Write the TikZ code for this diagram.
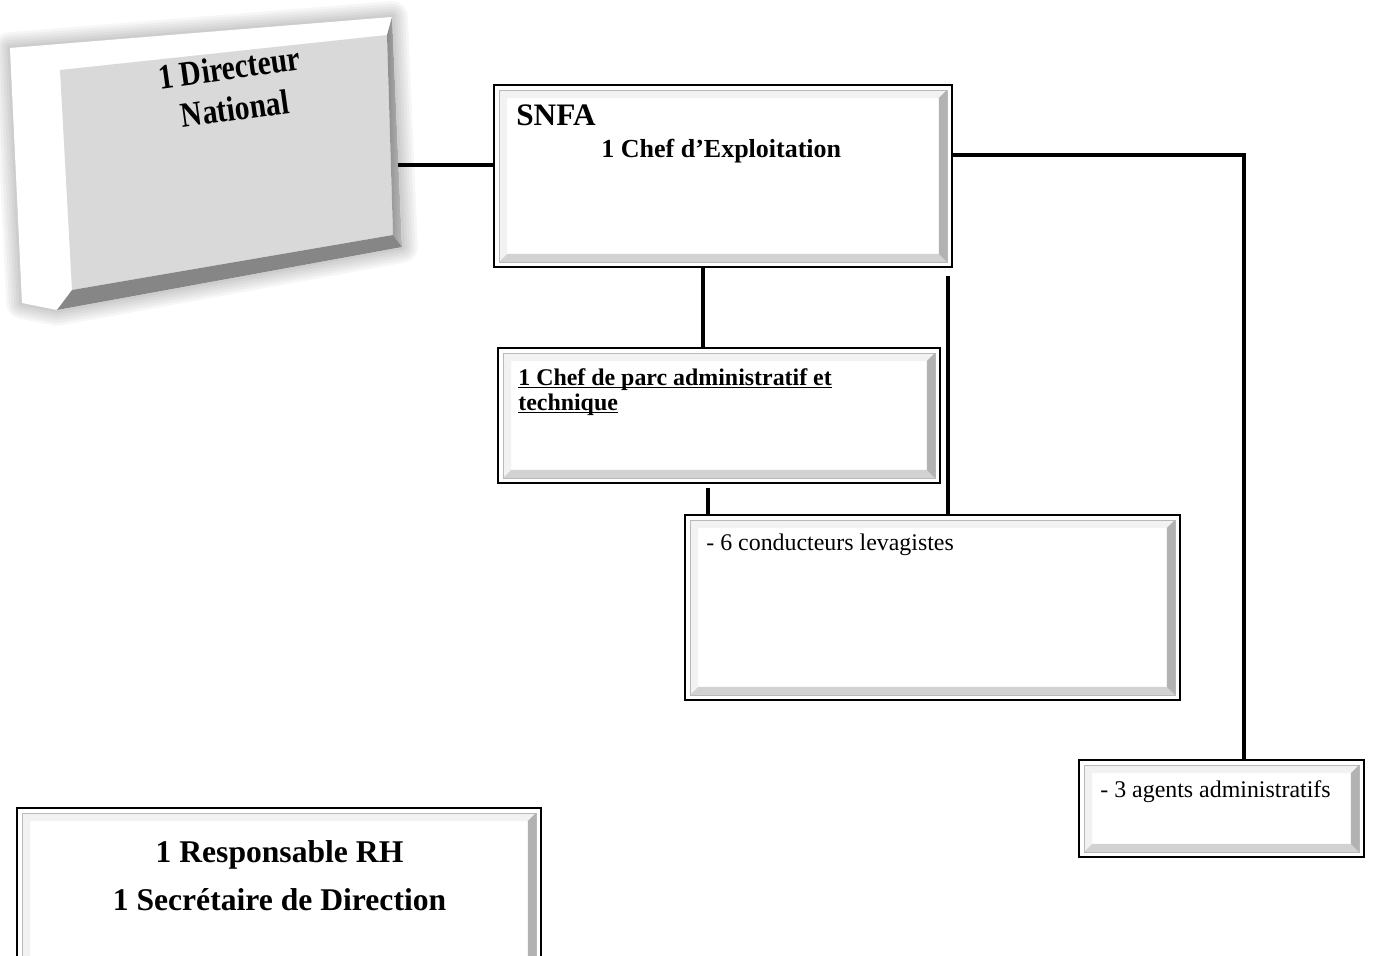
\documentclass[tikz,border=0pt]{standalone}
\usepackage{fontspec}
\setmainfont{Liberation Serif}
\usepackage{graphicx}
\newcommand\ulsmash[1]{\underline{\smash{#1}}}

\begin{document}
\begin{tikzpicture}[
  x=0.02cm, y=-0.02cm,
  unit/.style={rectangle, draw=black, line width=1.4pt, fill=white, bevel},
  bevel/.style={path picture={
    \coordinate (pa) at ([shift={(0.1cm,0.1cm)}]path picture bounding box.south west);
    \coordinate (pb) at ([shift={(-0.1cm,-0.1cm)}]path picture bounding box.north east);
    \coordinate (qa) at ([shift={(0.16cm,0.16cm)}]pa);
    \coordinate (qb) at ([shift={(-0.16cm,-0.16cm)}]pb);
    \fill[gray!10] (pa) -- (pa |- pb) -- (pb) -- (qb) -- (qa |- qb) -- (qa) -- cycle;
    \fill[gray!35] (pa) -- (pb |- pa) -- (qb |- qa) -- (qa) -- cycle;
    \fill[gray!60] (pb |- pa) -- (pb) -- (qb) -- (qb |- qa) -- cycle;
    \draw[gray!55, line width=0.4pt] (pa) rectangle (pb);
  }},
  link/.style={line width=2.8pt},
  head/.style={font=\bfseries\fontsize{14.8}{17}\selectfont, inner sep=0pt, anchor=base west},
  item/.style={font=\fontsize{13.6}{16}\selectfont, inner sep=0pt, anchor=base west}
]
\useasboundingbox (0,0) rectangle (1373,956);

% Directeur (3D block)
\foreach \w in {3,6,...,18}
  \draw[black, opacity=0.035, line width=\w pt, line join=round]
    (10,48) -- (392,17) -- (402,247) -- (57,310) -- (22,303) -- cycle;
\fill[white] (10,48) -- (392,17) -- (402,247) -- (57,310) -- (22,303) -- cycle;
\fill[gray!30] (60,70) -- (387,35) -- (393,235) -- (72,290) -- cycle;
\shade[left color=gray!90, right color=gray!55] (387,35) -- (392,17) -- (402,247) -- (393,235) -- cycle;
\fill[gray!95] (72,290) -- (393,235) -- (402,247) -- (57,310) -- cycle;
\node[font=\bfseries\fontsize{20}{23.6}\selectfont, align=center, rotate=8, inner sep=0pt] (dir) at (232,88)
  {\scalebox{0.84}[1]{1 Directeur}\\\scalebox{0.84}[1]{National}};
\coordinate (dirR) at (398,165);

% Units
\node[unit, minimum width=9.16cm, minimum height=3.64cm] (snfa) at (723,176) {};
\node[unit, minimum width=8.84cm, minimum height=2.7cm] (parc) at (719,415.5) {};
\node[unit, minimum width=9.9cm, minimum height=3.7cm] (cond) at (932.5,607.5) {};
\node[unit, minimum width=5.7cm, minimum height=1.94cm] (agents) at (1221.5,808.5) {};
\node[unit, minimum width=10.48cm, minimum height=3.28cm] (rh) at (279,890) {};

% Texts
\node[head, font=\bfseries\fontsize{17.8}{20}\selectfont] (snfaT) at (516,126) {SNFA};
\node[head] (chefT) at (601,158) {1 Chef d’Exploitation};
\node[head, font=\bfseries\fontsize{13.6}{16}\selectfont] (parcT1) at (518,385) {\ulsmash{1 Chef de parc administratif et}};
\node[head, font=\bfseries\fontsize{13.6}{16}\selectfont] (parcT2) at (518,410) {\ulsmash{technique}};
\node[item] (condT) at (706,550) {- 6 conducteurs levagistes};
\node[item] (agentsT) at (1100,797) {- 3 agents administratifs};
\node[head, font=\bfseries\fontsize{18}{20}\selectfont, anchor=base] (rhT1) at (279.5,862) {1 Responsable RH};
\node[head, font=\bfseries\fontsize{18}{20}\selectfont, anchor=base] (rhT2) at (279.5,910) {1 Secrétaire de Direction};

% Links
\draw[link] (dirR) -- (dirR -| snfa.west);
\draw[link] ([yshift=0.42cm]snfa.east) -| ([xshift=0.45cm]agents.north);
\draw[link] ([xshift=-0.4cm]snfa.south) -- ([xshift=-0.4cm]snfa.south |- parc.north);
\draw[link] ([xshift=4.5cm,yshift=-0.16cm]snfa.south) -- ([xshift=4.5cm]snfa.south |- cond.north);
\draw[link] ([xshift=-0.22cm,yshift=-0.08cm]parc.south) -- ([xshift=-0.22cm]parc.south |- cond.north);

\end{tikzpicture}
\end{document}
